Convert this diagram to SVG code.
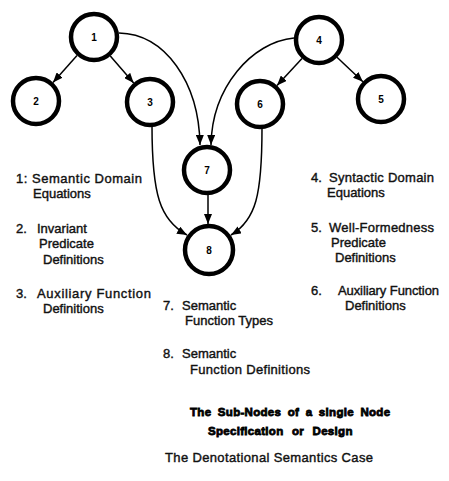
<svg xmlns="http://www.w3.org/2000/svg" width="449" height="481" viewBox="0 0 449 481">
<style>
.node circle{fill:#fff;stroke:#000;stroke-width:4.5}
.node text{font-family:"Liberation Sans",Arial,sans-serif;font-size:10px;font-weight:bold;text-anchor:middle;fill:#000}
.edge{fill:none;stroke:#000;stroke-width:1.5;marker-end:url(#ah)}
.lbl{font-family:"Liberation Sans",Arial,sans-serif;font-size:13px;fill:#111;stroke:#111;stroke-width:0.4}
.ttl{font-family:"Liberation Sans",Arial,sans-serif;font-size:11.5px;font-weight:bold;letter-spacing:0.3px;fill:#000;stroke:#000;stroke-width:0.8}
</style>
<defs>
<marker id="ah" markerUnits="userSpaceOnUse" markerWidth="10" markerHeight="8" refX="10" refY="4" orient="auto">
<path d="M0,0 L10,4 L0,8 z" fill="#000"/>
</marker>
</defs>
<g id="connectors">
<path class="edge" d="M77,55.5 L53,82.5"/>
<path class="edge" d="M110.3,56 L133.7,83"/>
<path class="edge" d="M302,58.4 L277,85.6"/>
<path class="edge" d="M337,57.2 L362.9,81.8"/>
<path class="edge" d="M119,33 C165,34 199,82 200,145"/>
<path class="edge" d="M294,38 C252,42 212,87 211,145"/>
<path class="edge" d="M152,126 C152,195 160,220 187,235"/>
<path class="edge" d="M262,128 C262,195 256,220 231,235"/>
<path class="edge" d="M208,195 L208,224"/>
</g>
<g id="node1" class="node"><circle cx="94" cy="37" r="23"/><text x="94" y="41">1</text></g>
<g id="node2" class="node"><circle cx="36" cy="101" r="23"/><text x="36" y="105">2</text></g>
<g id="node3" class="node"><circle cx="150" cy="102" r="23"/><text x="150" y="106">3</text></g>
<g id="node4" class="node"><circle cx="319" cy="40" r="23"/><text x="319" y="44">4</text></g>
<g id="node5" class="node"><circle cx="381" cy="99" r="23"/><text x="381" y="103">5</text></g>
<g id="node6" class="node"><circle cx="260" cy="104" r="23"/><text x="260" y="108">6</text></g>
<g id="node7" class="node"><circle cx="207" cy="170" r="23"/><text x="207" y="174">7</text></g>
<g id="node8" class="node"><circle cx="209" cy="250" r="24"/><text x="209" y="254">8</text></g>
<g id="legend">
<text class="lbl" x="16" y="183" textLength="126" lengthAdjust="spacing">1: Semantic  Domain</text>
<text class="lbl" x="33" y="198">Equations</text>
<text class="lbl" x="16" y="233">2.</text>
<text class="lbl" x="37" y="233">Invariant</text>
<text class="lbl" x="39" y="248">Predicate</text>
<text class="lbl" x="43" y="264">Definitions</text>
<text class="lbl" x="16" y="298">3.</text>
<text class="lbl" x="37" y="298" textLength="114" lengthAdjust="spacing">Auxiliary  Function</text>
<text class="lbl" x="43" y="313">Definitions</text>
<text class="lbl" x="311" y="182">4.</text>
<text class="lbl" x="329" y="182" textLength="105" lengthAdjust="spacing">Syntactic  Domain</text>
<text class="lbl" x="327" y="197">Equations</text>
<text class="lbl" x="311" y="232">5.</text>
<text class="lbl" x="329" y="232" textLength="105" lengthAdjust="spacing">Well-Formedness</text>
<text class="lbl" x="331" y="247">Predicate</text>
<text class="lbl" x="335" y="262">Definitions</text>
<text class="lbl" x="311" y="295">6.</text>
<text class="lbl" x="338" y="295" textLength="101" lengthAdjust="spacing">Auxiliary  Function</text>
<text class="lbl" x="345" y="310">Definitions</text>
<text class="lbl" x="163" y="310">7.</text>
<text class="lbl" x="182" y="310">Semantic</text>
<text class="lbl" x="185" y="325">Function Types</text>
<text class="lbl" x="163" y="358">8.</text>
<text class="lbl" x="182" y="358">Semantic</text>
<text class="lbl" x="190" y="374" textLength="120" lengthAdjust="spacing">Function  Definitions</text>
</g>
<g id="caption">
<text class="ttl" x="190" y="416" word-spacing="3">The Sub-Nodes of a single Node</text>
<text class="ttl" x="208" y="435" word-spacing="5">Specification or Design</text>
<text class="lbl" x="165" y="462" textLength="208" lengthAdjust="spacing">The Denotational Semantics Case</text>
</g>
</svg>
